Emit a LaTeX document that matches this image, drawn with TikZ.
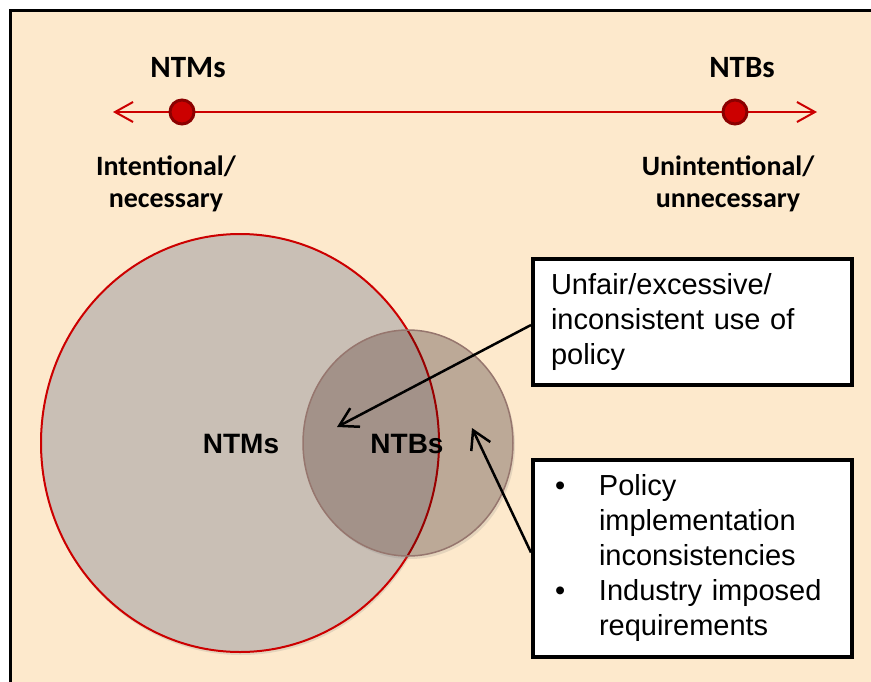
\documentclass[tikz,border=0pt]{standalone}
\usepackage{fontspec}
\setmainfont{Liberation Sans}
\newfontfamily\labelfont{Carlito}
\usetikzlibrary{arrows.meta,shadows}

\definecolor{pagebg}{RGB}{253,233,204}
\definecolor{axisred}{RGB}{204,0,0}
\definecolor{dotrim}{RGB}{139,0,0}
\definecolor{ntmfill}{RGB}{201,191,181}
\definecolor{ntbfill}{RGB}{188,169,151}
\definecolor{bothfill}{RGB}{163,146,137}
\definecolor{ntbline}{RGB}{150,118,110}

\begin{document}
\begin{tikzpicture}[x=1pt,y=-1pt,
    endlabel/.style={font=\labelfont\bfseries\fontsize{28}{32}\selectfont},
    setlabel/.style={font=\bfseries\fontsize{28}{34}\selectfont},
    notebox/.style={draw, line width=4pt, fill=white, anchor=north west, inner xsep=18pt, inner ysep=0pt, text width=283pt, align=left, font=\fontsize{29}{35}\selectfont},
    scaleline/.style={axisred, line width=2pt, {Straight Barb[length=18pt,width=20pt]}-{Straight Barb[length=18pt,width=20pt]}},
    pointer/.style={line width=2.5pt, -{Straight Barb[length=18pt,width=21pt]}},
    axisdot/.style={circle, fill=axisred, draw=dotrim, line width=3pt, minimum size=24pt, inner sep=0pt}]
  \path[use as bounding box] (0,0) rectangle (871,681);
  \fill[white] (0,0) rectangle (871,681);
  \draw[line width=3pt, fill=pagebg] (10,10) rectangle (890,700);

  \coordinate (leftend) at (113,112);
  \coordinate (rightend) at (817,112);
  \draw[scaleline] (leftend) -- (rightend);
  \node[axisdot] (ntmdot) at (182,112) {};
  \node[axisdot] (ntbdot) at (735,112) {};

  \node[endlabel, font=\labelfont\bfseries\fontsize{31}{31}\selectfont, anchor=base] (ntmhead) at (188,77) {NTMs};
  \node[endlabel, font=\labelfont\bfseries\fontsize{31}{31}\selectfont, anchor=base] (ntbhead) at (742,77) {NTBs};
  \node[endlabel, align=center] (ntmkind) at (166,184) {Intentional/\\necessary};
  \node[endlabel, align=center] (ntbkind) at (728,184) {Unintentional/\\unnecessary};

  \coordinate (ntmcentre) at (240,443);
  \coordinate (ntbcentre) at (408,443);
  \fill[ntmfill, drop shadow={opacity=0.2, shadow xshift=1pt, shadow yshift=-3pt}] (ntmcentre) ellipse [x radius=199, y radius=209];
  \draw[axisred, line width=2pt] (ntmcentre) ellipse [x radius=199, y radius=209];
  \fill[ntbfill, drop shadow={opacity=0.2, shadow xshift=2pt, shadow yshift=-3pt}] (ntbcentre) ellipse [x radius=105, y radius=113];
  \begin{scope}
    \clip (ntmcentre) ellipse [x radius=199, y radius=209];
    \fill[bothfill] (ntbcentre) ellipse [x radius=105, y radius=113];
  \end{scope}
  \begin{scope}
    \clip (ntbcentre) ellipse [x radius=105, y radius=113];
    \draw[axisred!75!black, line width=2pt] (ntmcentre) ellipse [x radius=199, y radius=209];
  \end{scope}
  \draw[ntbline, line width=1.5pt] (ntbcentre) ellipse [x radius=105, y radius=113];

  \node[setlabel, anchor=base] (ntmtag) at (241,453) {NTMs};
  \node[setlabel, anchor=base] (ntbtag) at (407,453) {NTBs};

  \node[notebox, minimum height=126pt] (misusebox) at (531,257) {Unfair/excessive/\\inconsistent use of\\policy};
  \node[notebox, minimum height=197pt] (sourcebox) at (531,458) {\noindent\begin{tabular}{@{}p{48pt}@{}l@{}}
      \hspace*{4pt}\textbullet & Policy\\
      & implementation\\
      & inconsistencies\\
      \hspace*{4pt}\textbullet & Industry imposed\\
      & requirements
    \end{tabular}};

  \coordinate (policytip) at (337,427);
  \coordinate (gaptip) at (472,428);
  \draw[pointer] ([yshift=-3pt]misusebox.west) -- (policytip);
  \draw[pointer] ([yshift=6pt]sourcebox.west) -- (gaptip);
\end{tikzpicture}
\end{document}
